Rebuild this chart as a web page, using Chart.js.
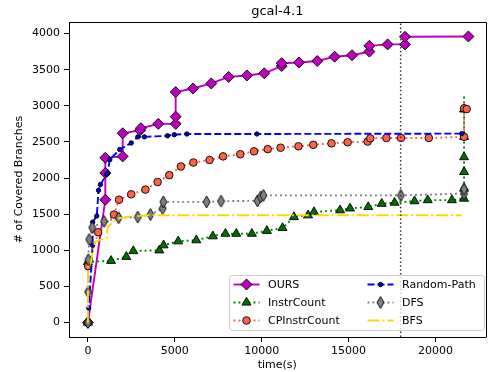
<!DOCTYPE html>
<html>
<head>
<meta charset="utf-8">
<script src="https://cdn.jsdelivr.net/npm/chart.js@4.4.0/dist/chart.umd.min.js"></script>
<style>
  html, body { margin: 0; padding: 0; background: #fff; }
</style>
</head>
<body>
<canvas id="chart" width="492" height="372"></canvas>
<script>
// data (time in s, covered branches)
var oursT = [0, 1000, 1000, 1000, 2000, 2000, 3000, 3050, 4050, 5050, 5050, 5050, 6050, 7100, 8100, 9150, 10150, 11150, 11150, 12150, 13200, 14200, 15200, 16200, 16200, 17250, 18250, 18250, 21900];
var oursV = [0, 1700, 2070, 2280, 2300, 2620, 2660, 2690, 2750, 2750, 2850, 3190, 3240, 3310, 3400, 3420, 3450, 3550, 3590, 3600, 3620, 3680, 3700, 3750, 3830, 3850, 3850, 3955, 3960];

var instrT = [0, 0, 1330, 2210, 2610, 4110, 4355, 5195, 6240, 7190, 7915, 8540, 9435, 10300, 11200, 11855, 12670, 13015, 14515, 15085, 16135, 16910, 17650, 18800, 19560, 20950, 21650, 21650, 21650, 21650, 21650, 21650, 21650];
var instrV = [0, 840, 855, 910, 990, 1000, 1070, 1125, 1140, 1195, 1230, 1230, 1230, 1270, 1310, 1460, 1485, 1530, 1555, 1580, 1600, 1645, 1660, 1680, 1695, 1695, 1715, 1855, 2085, 2290, 2570, 2950, 3130];

var cpT = [0, 10, 590, 1500, 1790, 2490, 3310, 4010, 4680, 5350, 6070, 7000, 7780, 8770, 9560, 10350, 11090, 12120, 12970, 14020, 14950, 16100, 16250, 17180, 18020, 19620, 21650, 21650, 21800];
var cpV = [0, 780, 1250, 1495, 1700, 1775, 1840, 1945, 2040, 2160, 2215, 2250, 2300, 2330, 2370, 2400, 2420, 2440, 2460, 2480, 2495, 2505, 2550, 2555, 2555, 2555, 2570, 2965, 2955];

var rpT = [0, 50, 270, 270, 510, 610, 720, 1070, 1120, 1260, 1830, 2490, 2870, 3250, 4580, 4970, 5690, 9730, 21520];
var rpV = [0, 200, 1070, 1390, 1475, 1830, 1910, 2050, 2060, 2255, 2395, 2485, 2570, 2570, 2585, 2600, 2610, 2610, 2615];

var dfsT = [0, 10, 20, 70, 245, 930, 1770, 2870, 3600, 4300, 4340, 6830, 7660, 9760, 9950, 10100, 18010, 21650, 21650];
var dfsV = [0, 425, 870, 1150, 1315, 1400, 1450, 1460, 1495, 1580, 1670, 1670, 1680, 1685, 1740, 1760, 1760, 1785, 1845];

var bfsT = [0, 0, 150, 400, 645, 1070, 1125, 1350, 1730, 2210, 3500, 21500];
var bfsV = [0, 795, 815, 1115, 1140, 1165, 1315, 1370, 1440, 1460, 1485, 1485];

var markLineT = 18000;
var xTicks = [0, 5000, 10000, 15000, 20000];
var yTicks = [0, 500, 1000, 1500, 2000, 2500, 3000, 3500, 4000];
var xRange = [-1090, 22890];
var yRange = [-200, 4160];

var FONT = '"DejaVu Sans", sans-serif';
var LW = 1.9;
var DOT = [1.9, 3.1];
var DASH = [7, 3];
var DASHDOT = [12, 3, 1.9, 3];

// thin diamond marker (matplotlib "d")
function thinDiamond() {
  var c = document.createElement("canvas");
  c.width = 9; c.height = 14;
  var g = c.getContext("2d");
  g.beginPath();
  g.moveTo(4.5, 1); g.lineTo(8, 7); g.lineTo(4.5, 13); g.lineTo(1, 7);
  g.closePath();
  g.fillStyle = "#808080"; g.fill();
  g.strokeStyle = "#000"; g.lineWidth = 0.9; g.stroke();
  return c;
}
var dfsMarker = thinDiamond();

function pts(t, v) {
  return t.map(function (x, i) { return { x: x, y: v[i] }; });
}

// plotted in this order (later ones on top), legend in the same order
var series = [
  { label: "OURS", t: oursT, v: oursV, color: "#bf00bf", fill: "#bf00bf", dash: [], style: "rectRot", r: 5.5 },
  { label: "InstrCount", t: instrT, v: instrV, color: "#008000", fill: "#007000", dash: DOT, style: "triangle", r: 5.2, hideLast: true },
  { label: "CPInstrCount", t: cpT, v: cpV, color: "#ff6347", fill: "#ff6347", dash: DOT, style: "circle", r: 3.8 },
  { label: "Random-Path", t: rpT, v: rpV, color: "#0000ff", fill: "#0000e0", dash: DASH, style: "circle", r: 2.2 },
  { label: "DFS", t: dfsT, v: dfsV, color: "#808080", fill: "#808080", dash: DOT, style: dfsMarker, r: 5 },
  { label: "BFS", t: bfsT, v: bfsV, color: "#ffd700", fill: "#ffd700", dash: DASHDOT, style: false, r: 0 }
];

var datasets = series.map(function (s, i) {
  var n = s.t.length;
  return {
    label: s.label,
    data: pts(s.t, s.v),
    showLine: true,
    borderColor: s.color,
    borderWidth: LW,
    borderDash: s.dash,
    borderCapStyle: "butt",
    backgroundColor: s.fill,
    pointStyle: s.style || "circle",
    pointRadius: s.hideLast ? function (c) { return c.dataIndex === n - 1 ? 0 : s.r; } : s.r,
    pointBackgroundColor: s.fill,
    pointBorderColor: "#000",
    pointBorderWidth: 0.9,
    tension: 0,
    order: 20 - i
  };
});

// vertical dotted marker line
datasets.push({
  label: "mark",
  data: [{ x: markLineT, y: yRange[0] }, { x: markLineT, y: yRange[1] }],
  showLine: true,
  borderColor: "#333",
  borderWidth: 1.5,
  borderDash: [1.5, 2.4],
  pointRadius: 0,
  order: 0
});

function drawMarker(ctx, s, x, y) {
  if (!s.style) return;
  ctx.save();
  ctx.fillStyle = s.fill;
  ctx.strokeStyle = "#000";
  ctx.lineWidth = 0.9;
  Chart.helpers.drawPoint(ctx, { pointStyle: s.style, radius: s.r, rotation: 0, borderWidth: 0.9 }, x, y);
  ctx.restore();
}

var decorations = {
  id: "decorations",
  afterDraw: function (chart) {
    var ctx = chart.ctx;
    var a = chart.chartArea;
    ctx.save();
    // top and right spines
    ctx.strokeStyle = "#000";
    ctx.lineWidth = 1;
    ctx.beginPath();
    ctx.moveTo(Math.round(a.left) + 0.5, Math.round(a.top) + 0.5);
    ctx.lineTo(Math.round(a.right) + 0.5, Math.round(a.top) + 0.5);
    ctx.lineTo(Math.round(a.right) + 0.5, Math.round(a.bottom) + 0.5);
    ctx.stroke();

    // title
    ctx.fillStyle = "#000";
    ctx.font = "13px " + FONT;
    ctx.textAlign = "center";
    ctx.textBaseline = "alphabetic";
    ctx.fillText("gcal-4.1", (a.left + a.right) / 2, 15);

    // legend
    var bx = 229.5, by = 275.5, bw = 255, bh = 55;
    ctx.beginPath();
    ctx.roundRect(bx, by, bw, bh, 3);
    ctx.fillStyle = "rgba(255,255,255,0.8)";
    ctx.fill();
    ctx.strokeStyle = "#cccccc";
    ctx.lineWidth = 1;
    ctx.stroke();

    ctx.font = "11px " + FONT;
    ctx.textAlign = "left";
    ctx.textBaseline = "middle";
    series.forEach(function (s, i) {
      var col = Math.floor(i / 3), row = i % 3;
      var x0 = col === 0 ? 233.5 : 367.5;
      var y = 284.5 + row * 18;
      ctx.save();
      ctx.strokeStyle = s.color;
      ctx.lineWidth = LW;
      ctx.setLineDash(s.dash);
      ctx.beginPath();
      ctx.moveTo(x0, y);
      ctx.lineTo(x0 + 26, y);
      ctx.stroke();
      ctx.restore();
      drawMarker(ctx, s, x0 + 13, y);
      ctx.fillStyle = "#000";
      ctx.fillText(s.label, x0 + 34.5, y + 0.5);
    });
    ctx.restore();
  }
};

function plainNumber(v) { return String(v); }

var ctx = document.getElementById("chart").getContext("2d");
new Chart(ctx, {
  type: "scatter",
  data: { datasets: datasets },
  plugins: [decorations],
  options: {
    responsive: false,
    animation: false,
    devicePixelRatio: 1,
    events: [],
    layout: { padding: { left: 0, right: 3, top: 22, bottom: 0 } },
    plugins: { legend: { display: false }, tooltip: { enabled: false } },
    scales: {
      x: {
        type: "linear",
        min: xRange[0],
        max: xRange[1],
        afterBuildTicks: function (s) { s.ticks = xTicks.map(function (v) { return { value: v }; }); },
        afterFit: function (s) { s.height = 35; },
        grid: { drawOnChartArea: false, drawTicks: true, tickLength: 5, tickColor: "#000", tickWidth: 1 },
        border: { display: true, color: "#000", width: 1 },
        ticks: { color: "#000", font: { family: FONT, size: 11 }, padding: 3, maxRotation: 0, autoSkip: false, callback: plainNumber },
        title: { display: true, text: "time(s)", color: "#000", font: { family: FONT, size: 11 }, padding: { top: 0, bottom: 0 } }
      },
      y: {
        type: "linear",
        min: yRange[0],
        max: yRange[1],
        afterBuildTicks: function (s) { s.ticks = yTicks.map(function (v) { return { value: v }; }); },
        afterFit: function (s) { s.width = 69; },
        grid: { drawOnChartArea: false, drawTicks: true, tickLength: 5, tickColor: "#000", tickWidth: 1 },
        border: { display: true, color: "#000", width: 1 },
        ticks: { color: "#000", font: { family: FONT, size: 11 }, padding: 4, autoSkip: false, callback: plainNumber },
        title: { display: true, text: "# of Covered Branches", color: "#000", font: { family: FONT, size: 11 }, padding: { top: 13, bottom: 0 } }
      }
    }
  }
});
</script>
</body>
</html>
